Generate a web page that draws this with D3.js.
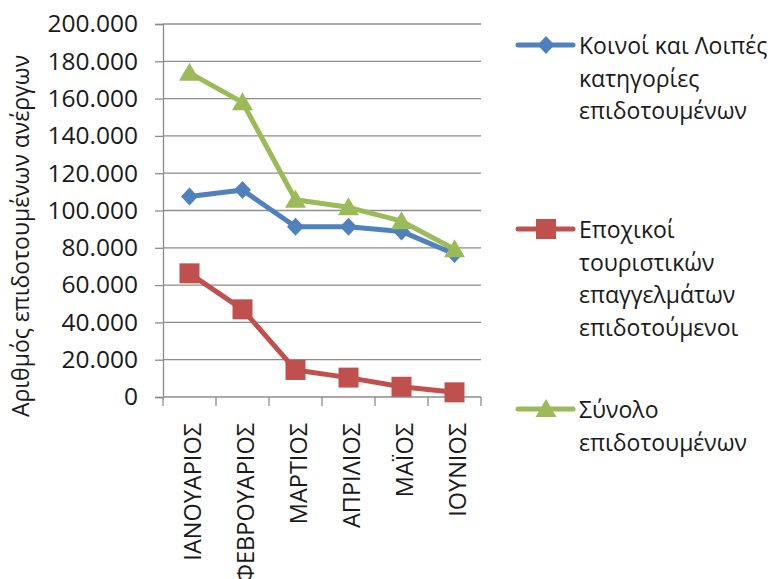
<!DOCTYPE html>
<html>
<head>
<meta charset="utf-8">
<script src="https://cdn.jsdelivr.net/npm/d3@7"></script>
<style>
  html, body { margin: 0; padding: 0; background: #fff; }
  svg { display: block; font-family: "Open Sans", "Noto Sans", sans-serif; }
</style>
</head>
<body>
<svg id="chart" width="772" height="579"></svg>
<script>
const months = ["ΙΑΝΟΥΑΡΙΟΣ", "ΦΕΒΡΟΥΑΡΙΟΣ", "ΜΑΡΤΙΟΣ", "ΑΠΡΙΛΙΟΣ", "ΜΑΪΟΣ", "ΙΟΥΝΙΟΣ"];
const commonValues = [107500, 111000, 91300, 91300, 88800, 76700];
const seasonalValues = [66300, 47000, 14500, 10400, 5500, 2500];
const totalValues = [173800, 158000, 105800, 101700, 94300, 79200];
const yTicks = [0, 20000, 40000, 60000, 80000, 100000, 120000, 140000, 160000, 180000, 200000];
const yTitle = "Αριθμός επιδοτουμένων ανέργων";
const seriesNames = [
  ["Κοινοί και Λοιπές", "κατηγορίες", "επιδοτουμένων"],
  ["Εποχικοί", "τουριστικών", "επαγγελμάτων", "επιδοτούμενοι"],
  ["Σύνολο", "επιδοτουμένων"]
];

const series = [
  { values: commonValues, color: "#4F81BD", marker: "diamond", name: seriesNames[0] },
  { values: seasonalValues, color: "#C0504D", marker: "square", name: seriesNames[1] },
  { values: totalValues, color: "#9BBB59", marker: "triangle", name: seriesNames[2] }
];

const svg = d3.select("#chart");
const pLeft = 163, pRight = 481, pTop = 24, pBottom = 397;
const fontSize = 23;
const gridColor = "#8c8c8c";

const x = d3.scaleBand().domain(months).range([pLeft, pRight]).padding(0);
const y = d3.scaleLinear().domain([0, 200000]).range([pBottom, pTop]);

const loc = d3.formatLocale({ decimal: ",", thousands: ".", grouping: [3], currency: ["", ""] });
const fmt = loc.format(",d");

// y axis
const yAxis = d3.axisLeft(y).tickValues(yTicks).tickSize(8).tickFormat(fmt).tickPadding(17);
const gy = svg.append("g").attr("transform", `translate(${pLeft},0)`).call(yAxis);
gy.select(".domain").attr("stroke", gridColor).attr("stroke-width", 1.3);
gy.selectAll(".tick line").attr("stroke", gridColor).attr("stroke-width", 1.3);
gy.selectAll(".tick text").attr("font-size", 24.5).attr("fill", "#1a1a1a")
  .attr("font-family", '"Open Sans", sans-serif');

// gridlines
svg.append("g").selectAll("line").data(yTicks.filter(d => d > 0)).join("line")
  .attr("x1", pLeft).attr("x2", pRight)
  .attr("y1", d => y(d)).attr("y2", d => y(d))
  .attr("stroke", gridColor).attr("stroke-width", 1.3);

// x axis
svg.append("line").attr("x1", pLeft).attr("x2", pRight).attr("y1", pBottom).attr("y2", pBottom)
  .attr("stroke", gridColor).attr("stroke-width", 1.3);
const bounds = months.map(m => x(m)).concat([pRight]);
svg.append("g").selectAll("line").data(bounds).join("line")
  .attr("x1", d => d).attr("x2", d => d)
  .attr("y1", pBottom).attr("y2", pBottom + 9)
  .attr("stroke", gridColor).attr("stroke-width", 1.3);

svg.append("g").selectAll("text").data(months).join("text")
  .attr("transform", d => `translate(${x(d) + x.bandwidth() / 2 + 2},${pBottom + 26}) rotate(-90)`)
  .attr("text-anchor", "end")
  .attr("dominant-baseline", "central")
  .attr("font-size", 23.5).attr("fill", "#1a1a1a")
  .text(d => d);

// y title
svg.append("text")
  .attr("transform", `translate(20,236) rotate(-90)`)
  .attr("text-anchor", "middle").attr("dominant-baseline", "central")
  .attr("font-size", fontSize).attr("fill", "#1a1a1a")
  .text(yTitle);

function markerPath(type, cx, cy) {
  if (type === "diamond") {
    return `M${cx},${cy - 9}L${cx + 8.5},${cy}L${cx},${cy + 9}L${cx - 8.5},${cy}Z`;
  } else if (type === "square") {
    return `M${cx - 10},${cy - 10}h20v20h-20Z`;
  } else {
    return `M${cx},${cy - 10}L${cx + 10.5},${cy + 8}L${cx - 10.5},${cy + 8}Z`;
  }
}

const line = d3.line().x((d, i) => x(months[i]) + x.bandwidth() / 2).y(d => y(d));

series.forEach(s => {
  svg.append("path").datum(s.values).attr("d", line)
    .attr("fill", "none").attr("stroke", s.color).attr("stroke-width", 5)
    .attr("stroke-linejoin", "round");
  svg.append("g").selectAll("path").data(s.values).join("path")
    .attr("d", (d, i) => markerPath(s.marker, x(months[i]) + x.bandwidth() / 2, y(d)))
    .attr("fill", s.color);
});

// legend
const legendY = [45, 229, 409];
const lineH = 32.5;
series.forEach((s, k) => {
  const g = svg.append("g");
  const ly = legendY[k];
  g.append("line").attr("x1", 518).attr("x2", 573).attr("y1", ly).attr("y2", ly)
    .attr("stroke", s.color).attr("stroke-width", 5).attr("stroke-linecap", "round");
  g.append("path").attr("d", markerPath(s.marker, 546, ly)).attr("fill", s.color);
  s.name.forEach((t, j) => {
    g.append("text").attr("x", 579).attr("y", ly + j * lineH)
      .attr("dominant-baseline", "central")
      .attr("font-size", fontSize).attr("fill", "#1a1a1a").text(t);
  });
});
</script>
</body>
</html>
